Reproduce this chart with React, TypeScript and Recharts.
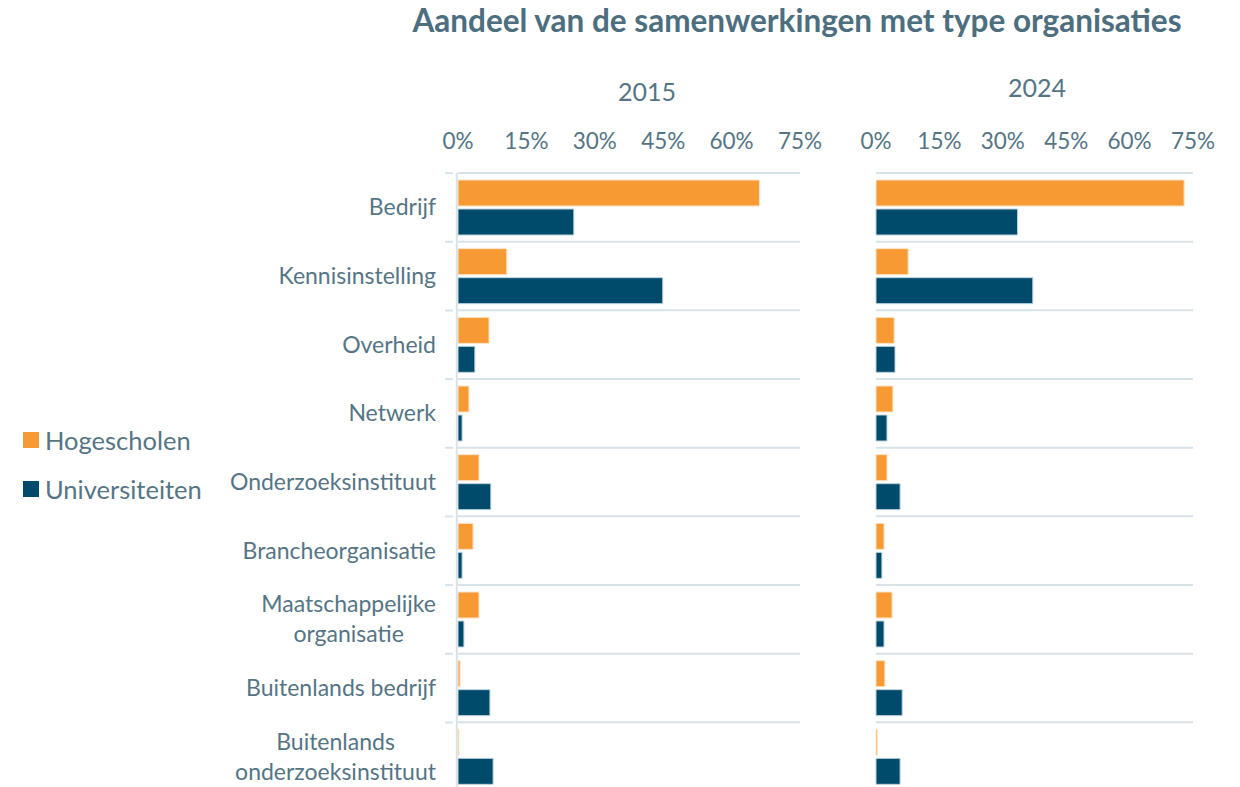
import React from 'react';
import { BarChart, Bar, XAxis, YAxis, CartesianGrid } from 'recharts';

const categories = [
  'Bedrijf',
  'Kennisinstelling',
  'Overheid',
  'Netwerk',
  'Onderzoeksinstituut',
  'Brancheorganisatie',
  'Maatschappelijke organisatie',
  'Buitenlands bedrijf',
  'Buitenlands onderzoeksinstituut',
];

// two-line labels as drawn in the reference
const labelLines: Record<string, string[]> = {
  'Maatschappelijke organisatie': ['Maatschappelijke', 'organisatie'],
  'Buitenlands onderzoeksinstituut': ['Buitenlands', 'onderzoeksinstituut'],
};

const hogescholen2015 = [66.1, 10.7, 6.8, 2.4, 4.6, 3.3, 4.6, 0.45, 0.2];
const universiteiten2015 = [25.4, 44.9, 3.7, 0.9, 7.2, 0.9, 1.3, 7.0, 7.7];
const hogescholen2024 = [72.9, 7.6, 4.3, 4.0, 2.6, 1.9, 3.8, 2.1, 0.3];
const universiteiten2024 = [33.5, 37.1, 4.5, 2.6, 5.7, 1.4, 1.9, 6.2, 5.7];

const xTicks = [0, 15, 30, 45, 60, 75];

const ORANGE = '#F89A33';
const NAVY = '#004A6C';
const GRID = '#D8E2E9';
const TEXT = '#557585';
const FONT = 'Lato, "Noto Sans", sans-serif';
const LABEL_SIZE = 23;

const data2015 = categories.map((name, i) => ({
  name,
  hogescholen: hogescholen2015[i],
  universiteiten: universiteiten2015[i],
}));
const data2024 = categories.map((name, i) => ({
  name,
  hogescholen: hogescholen2024[i],
  universiteiten: universiteiten2024[i],
}));

const PLOT_TOP = 173;
const PLOT_HEIGHT = 616;
const band = PLOT_HEIGHT / categories.length;

const boundaries = ({ offset }: any) =>
  Array.from({ length: categories.length + 1 }, (_, i) => offset.top + (i * offset.height) / categories.length);

let ctx: CanvasRenderingContext2D | null = null;
function textWidth(s: string) {
  if (!ctx) ctx = document.createElement('canvas').getContext('2d');
  if (!ctx) return s.length * LABEL_SIZE * 0.5;
  ctx.font = `${LABEL_SIZE}px Lato`;
  return ctx.measureText(s).width;
}

function CategoryTick({ x, y, payload }: any) {
  const lines = labelLines[payload.value] || [payload.value];
  const lh = 30;
  const startY = y - ((lines.length - 1) * lh) / 2;
  const right = x + 4;
  const half = Math.max(...lines.map(textWidth)) / 2;
  return (
    <g>
      <line x1={x + 13} x2={x + 21} y1={y - band / 2} y2={y - band / 2} stroke={GRID} strokeWidth={2} />
      {lines.length === 1 ? (
        <text x={right} y={y} dy="0.35em" textAnchor="end" fill={TEXT} fontSize={LABEL_SIZE} fontFamily={FONT}>
          {lines[0]}
        </text>
      ) : (
        <text fill={TEXT} fontSize={LABEL_SIZE} fontFamily={FONT} textAnchor="middle">
          {lines.map((l, i) => (
            <tspan key={l} x={right - half} y={startY + i * lh} dy="0.35em">
              {l}
            </tspan>
          ))}
        </text>
      )}
    </g>
  );
}

function Panel({ data, width, left, yWidth, right, showY }: any) {
  return (
    <BarChart
      width={width}
      height={PLOT_TOP + PLOT_HEIGHT + 2}
      data={data}
      layout="vertical"
      margin={{ top: PLOT_TOP - 40, right, bottom: 0, left }}
      barCategoryGap={7}
      barGap={3}
    >
      <CartesianGrid
        vertical={false}
        stroke={GRID}
        strokeWidth={2}
        horizontalCoordinatesGenerator={boundaries}
      />
      <XAxis
        type="number"
        orientation="top"
        domain={[0, 75]}
        ticks={xTicks}
        tickFormatter={(v) => `${v}%`}
        axisLine={false}
        tickLine={false}
        height={40}
        tickMargin={18}
        tick={{ fill: TEXT, fontSize: 22.5, fontFamily: FONT }}
        interval={0}
      />
      <YAxis
        type="category"
        dataKey="name"
        width={yWidth}
        hide={!showY}
        axisLine={{ stroke: GRID, strokeWidth: 2, transform: 'translate(-1.2,0)' }}
        tickLine={false}
        tick={<CategoryTick />}
        tickMargin={20}
        interval={0}
      />
      <Bar dataKey="hogescholen" fill={ORANGE} stroke="#FCE3C6" strokeWidth={1} isAnimationActive={false} />
      <Bar dataKey="universiteiten" fill={NAVY} stroke="#BFD3DD" strokeWidth={1} isAnimationActive={false} />
    </BarChart>
  );
}

export default function App() {
  return (
    <div
      style={{
        position: 'absolute',
        left: 0,
        top: 0,
        width: 1240,
        height: 787,
        overflow: 'hidden',
        background: '#fff',
        fontFamily: FONT,
        color: TEXT,
      }}
    >
      <div
        style={{
          position: 'absolute',
          left: 397,
          width: 800,
          top: 1,
          textAlign: 'center',
          fontSize: 31.5,
          fontWeight: 700,
          color: '#4D6E7F',
        }}
      >
        Aandeel van de samenwerkingen met type organisaties
      </div>
      <div style={{ position: 'absolute', left: 547, width: 200, top: 76, textAlign: 'center', fontSize: 25 }}>2015</div>
      <div style={{ position: 'absolute', left: 937, width: 200, top: 72, textAlign: 'center', fontSize: 25 }}>2024</div>

      <div style={{ position: 'absolute', left: 0, top: 0 }}>
        <Panel data={data2015} width={830} left={0} yWidth={458} right={30} showY />
      </div>
      <div style={{ position: 'absolute', left: 840, top: 0 }}>
        <Panel data={data2024} width={400} left={36} yWidth={0} right={47} showY={false} />
      </div>

      <div style={{ position: 'absolute', left: 23, top: 424, fontSize: 25.5, lineHeight: '32px' }}>
        {[
          ['Hogescholen', ORANGE],
          ['Universiteiten', NAVY],
        ].map(([label, c], i) => (
          <div key={label} style={{ display: 'flex', alignItems: 'center', marginBottom: i === 0 ? 17 : 0 }}>
            <span style={{ width: 16, height: 16, background: c, display: 'inline-block', marginRight: 6 }} />
            {label}
          </div>
        ))}
      </div>
    </div>
  );
}
